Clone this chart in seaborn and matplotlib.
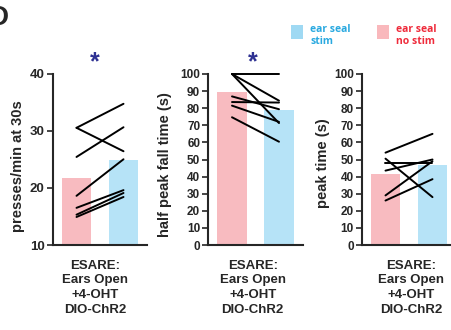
import numpy as np
import pandas as pd
import matplotlib
matplotlib.use("Agg")
import matplotlib.pyplot as plt
import seaborn as sns
from matplotlib.patches import Rectangle

# ---- data -------------------------------------------------------------
conditions = ["ear seal no stim", "ear seal stim"]
positions = [0, 1]
group_label = "ESARE:\nEars Open\n+4-OHT\nDIO-ChR2"

# presses/min at 30s
press_bars = [21.7, 24.9]
press_nostim = [30.5, 30.5, 25.4, 18.6, 16.5, 15.3, 14.9]
press_stim = [34.7, 26.4, 30.6, 25.0, 19.6, 19.1, 18.4]

# half peak fall time (s)
fall_bars = [89.5, 79.0]
fall_nostim = [100, 100, 100, 86.9, 83.6, 81.5, 74.7]
fall_stim = [100, 84.4, 71.3, 79.4, 83.3, 72.0, 60.4]

# peak time (s)
peak_bars = [41.7, 47.0]
peak_nostim = [54.0, 50.5, 47.8, 43.5, 29.0, 26.0]
peak_stim = [65.0, 28.0, 47.8, 50.0, 49.0, 38.5]

PINK = "#f8bbc0"
BLUE = "#b6e3f7"
PINK_KEY = "#f9b8bc"
BLUE_KEY = "#9fd9f3"
RED_TXT = "#ef2b3b"
BLUE_TXT = "#2aa9e0"
STAR = "#2e3192"

# ---- style ------------------------------------------------------------
sns.set_style("ticks")
plt.rcParams["font.family"] = ["Liberation Sans", "DejaVu Sans"]
plt.rcParams["font.weight"] = "bold"
plt.rcParams["axes.linewidth"] = 1.5

W, H = 452, 330
fig = plt.figure(figsize=(W / 100, H / 100), dpi=100)


def px_rect(left, top, width, height):
    return [left / W, 1 - (top + height) / H, width / W, height / H]


def panel(rect, bars, before, after, ylim, ticks, ylabel, ticksize,
          ylab_xy, xlab_x):
    ax = fig.add_axes(rect)
    sns.barplot(x=positions, y=bars, hue=conditions, palette=[PINK, BLUE],
                width=0.62, linewidth=0, errorbar=None, legend=False,
                saturation=1, ax=ax)
    n = len(before)
    df = pd.DataFrame({
        "subject": np.tile(np.arange(n), 2),
        "pos": np.repeat(positions, n),
        "value": list(before) + list(after),
    })
    sns.lineplot(data=df, x="pos", y="value", units="subject",
                 estimator=None, color="black", lw=1.4, legend=False,
                 ax=ax, clip_on=False)
    ax.set_xlim(-0.5, 1.5)
    ax.set_ylim(*ylim)
    ax.set_yticks(ticks)
    ax.set_xticks([])
    ax.set_xlabel("")
    ax.tick_params(axis="y", direction="out", length=4.5, width=1.2,
                   pad=1.5, labelsize=ticksize)
    for lab in ax.get_yticklabels():
        lab.set_fontweight("bold")
    sns.despine(ax=ax)
    ax.set_ylabel(ylabel, fontsize=10.5, fontweight="bold", va="center")
    ax.yaxis.set_label_coords(*ylab_xy)
    ax.text(xlab_x, -0.085, group_label, transform=ax.transAxes,
            ha="center", va="top", fontsize=9.5, fontweight="bold",
            multialignment="center", linespacing=1.3)
    return ax


ax1 = panel(px_rect(53, 73.5, 94, 171.5), press_bars, press_nostim,
            press_stim, (10, 40), [10, 20, 30, 40], "presses/min at 30s",
            9.5, (-0.372, 0.458), 0.45)
ax2 = panel(px_rect(208.5, 74, 94, 171), fall_bars, fall_nostim, fall_stim,
            (0, 100), np.arange(0, 101, 10), "half peak fall time (s)",
            8.5, (-0.463, 0.47), 0.47)
ax3 = panel(px_rect(362, 74, 94, 171), peak_bars, peak_nostim, peak_stim,
            (0, 100), np.arange(0, 101, 10), "peak time (s)",
            8.5, (-0.415, 0.48), 0.52)

# significance stars
for x in (95, 253):
    fig.text(x / W, 1 - 69.5 / H, "*", color=STAR, fontsize=18,
             fontweight="bold", ha="center", va="baseline")

# panel letter
fig.text(8 / W, 1 - 25 / H, "D", fontsize=20, fontweight="bold",
         ha="right", va="baseline")

# condition key
for x0, fc, txt, tc in [(291, BLUE_KEY, "ear seal\nstim", BLUE_TXT),
                        (377, PINK_KEY, "ear seal\nno stim", RED_TXT)]:
    fig.add_artist(Rectangle((x0 / W, 1 - 39 / H), 12 / W, 14 / H,
                             transform=fig.transFigure, facecolor=fc,
                             edgecolor="none"))
    fig.text((x0 + 19.5) / W, 1 - 35.5 / H, txt, color=tc, fontsize=7.5,
             family=["Open Sans", "DejaVu Sans"], fontweight="bold",
             ha="left", va="center", linespacing=1.25)

fig.savefig("out.png", dpi=100)
